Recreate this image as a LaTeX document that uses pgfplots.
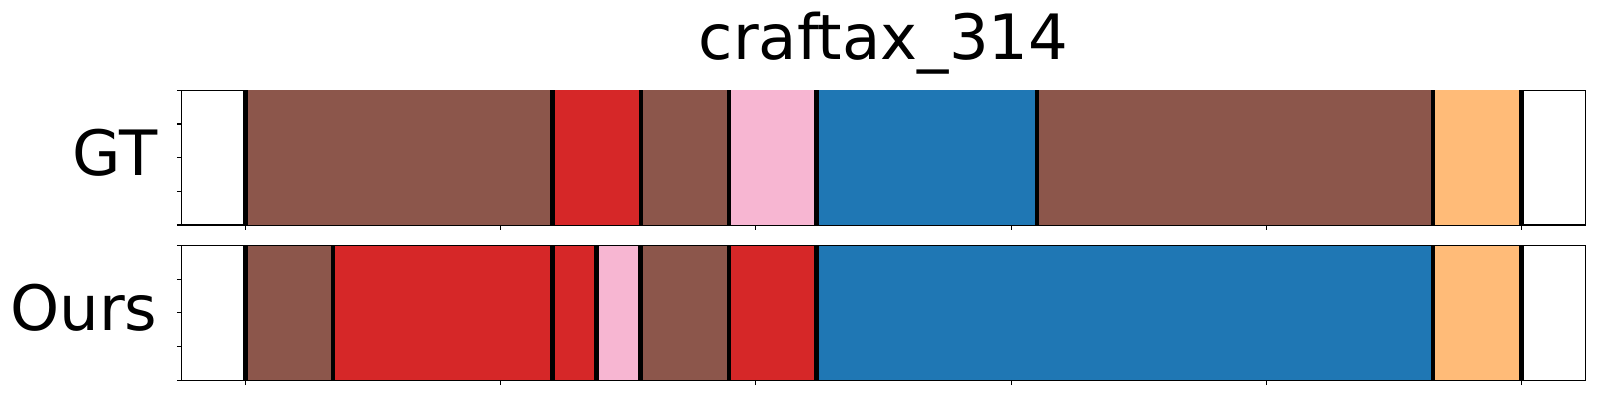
\documentclass[border=0pt]{standalone}
\usepackage{pgfplots}
\pgfplotsset{compat=1.18}
\usepackage{fontspec}
\setmainfont{DejaVu Sans}
\definecolor{tbrown}{HTML}{8C564B}
\definecolor{tred}{HTML}{D62728}
\definecolor{tpink}{HTML}{F7B6D2}
\definecolor{tblue}{HTML}{1F77B4}
\definecolor{torange}{HTML}{FFBB78}
\newcommand{\seg}[3]{\addplot[fill=#3,draw=none] coordinates {(#1,1) (#2,1)} \closedcycle;}
\newcommand{\bd}[1]{\addplot[black,line width=3.1bp] coordinates {(#1,0) (#1,1)};}
\pgfplotsset{segax/.style={at={(130.8bp,#1)}, anchor=south west, scale only axis,
  width=1010.6bp, height=97bp, xmin=-25, xmax=525, ymin=0, ymax=1,
  xtick={0,100,...,500}, xticklabel=\empty, ytick={0,0.25,...,1}, yticklabel=\empty,
  tick align=outside, xtick pos=bottom, ytick pos=left, major tick length=3.5bp,
  axis line style={line width=0.8bp},
  every tick/.style={black,line width=0.8bp},
  ylabel style={rotate=-90, anchor=base east, inner sep=0pt, at={(axis description cs:-0.0171,0.37)},
    font=\fontsize{45bp}{54bp}\selectfont},
  title style={anchor=base, inner sep=0pt, at={(axis description cs:0.5,1.17)},
    font=\fontsize{45bp}{54bp}\selectfont}}}
\begin{document}
\begin{tikzpicture}
\useasboundingbox (0,0) rectangle (1152bp,288bp);
\begin{axis}[segax=126bp, ylabel={GT}, title={craftax\_314}]
\seg{0}{120.3}{tbrown}
\seg{120.3}{155}{tred}
\seg{155}{189.5}{tbrown}
\seg{189.5}{223.8}{tpink}
\seg{223.8}{310.1}{tblue}
\seg{310.1}{465.4}{tbrown}
\seg{465.4}{500}{torange}
\bd{0}\bd{120.3}\bd{155}\bd{189.5}\bd{223.8}\bd{310.1}\bd{465.4}\bd{500}
\end{axis}
\begin{axis}[segax=14.2bp, ylabel={Ours}]
\seg{0}{34.2}{tbrown}
\seg{34.2}{120.3}{tred}
\seg{120.3}{137.6}{tred}
\seg{137.6}{154.8}{tpink}
\seg{154.8}{189.5}{tbrown}
\seg{189.5}{223.8}{tred}
\seg{223.8}{465.4}{tblue}
\seg{465.4}{500}{torange}
\bd{0}\bd{34.2}\bd{120.3}\bd{137.6}\bd{154.8}\bd{189.5}\bd{223.8}\bd{465.4}\bd{500}
\end{axis}
\end{tikzpicture}
\end{document}
